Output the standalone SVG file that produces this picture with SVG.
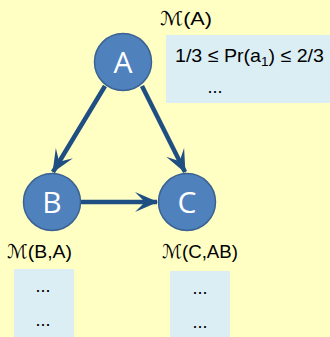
<svg xmlns="http://www.w3.org/2000/svg" width="330" height="337" viewBox="0 0 330 337">
<defs>
<style>
.bg{fill:#FFFFC4}
.box{fill:#DBEEF4}
.node circle{fill:#4F81BD;stroke:#3A6293;stroke-width:1.5}
.node text{fill:#FFFFFF;font-family:"Open Sans","Liberation Sans",sans-serif;font-size:30px;text-anchor:middle}
.lbl{fill:#000000;font-family:"Liberation Sans","DejaVu Sans",sans-serif;font-size:19px}
.dots{fill:#000000;font-family:"Liberation Sans",sans-serif;font-size:18px;text-anchor:middle}
.edge{stroke:#1F4E82;stroke-width:4.5;fill:none;marker-end:url(#arr)}
</style>
<marker id="arr" viewBox="0 0 24 22" refX="22" refY="11" markerWidth="24" markerHeight="22" markerUnits="userSpaceOnUse" orient="auto">
<path d="M0,1 L23,11 L0,21 L10,11 Z" fill="#1F4E82"/>
</marker>
</defs>
<rect class="bg" x="0" y="0" width="330" height="337"/>
<g id="boxA">
<rect class="box" x="166" y="35" width="164" height="68"/>
<text class="lbl" x="160" y="25" textLength="52" lengthAdjust="spacingAndGlyphs">ℳ(A)</text>
<text class="lbl" x="175" y="62" textLength="149" lengthAdjust="spacingAndGlyphs">1/3 ≤ Pr(a<tspan font-size="13" dy="4">1</tspan><tspan dy="-4">) ≤ 2/3</tspan></text>
<text class="dots" x="215" y="93">...</text>
</g>
<g id="boxB">
<text class="lbl" x="7" y="258" textLength="65" lengthAdjust="spacingAndGlyphs">ℳ(B,A)</text>
<rect class="box" x="14" y="269" width="60" height="68"/>
<text class="dots" x="43" y="292">...</text>
<text class="dots" x="43" y="326">...</text>
</g>
<g id="boxC">
<text class="lbl" x="162" y="258" textLength="76" lengthAdjust="spacingAndGlyphs">ℳ(C,AB)</text>
<rect class="box" x="170" y="271" width="60" height="66"/>
<text class="dots" x="200" y="294">...</text>
<text class="dots" x="200" y="328">...</text>
</g>
<g id="connectors">
<line class="edge" x1="105" y1="86" x2="53" y2="172"/>
<line class="edge" x1="142" y1="86" x2="185" y2="172"/>
<line class="edge" x1="81" y1="202" x2="157" y2="202"/>
</g>
<g id="A" class="node"><circle cx="123" cy="62" r="28.5"/><text x="123" y="73">A</text></g>
<g id="B" class="node"><circle cx="52" cy="202" r="28.5"/><text x="52" y="213">B</text></g>
<g id="C" class="node"><circle cx="187" cy="202" r="28.5"/><text x="187" y="213">C</text></g>
</svg>
